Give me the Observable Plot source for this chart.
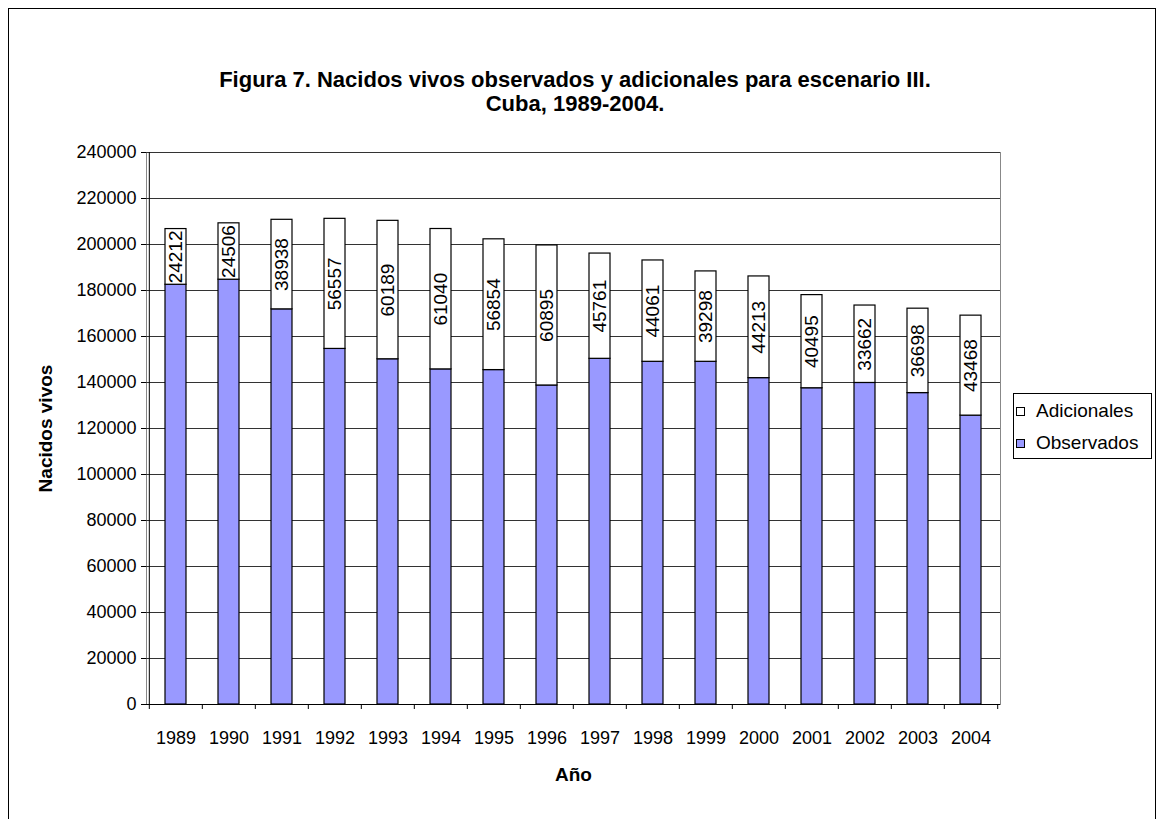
<!DOCTYPE html>
<html><head><meta charset="utf-8">
<script src="https://cdn.jsdelivr.net/npm/d3@7"></script>
<script src="https://cdn.jsdelivr.net/npm/@observablehq/plot@0.6"></script>
<style>
html,body{margin:0;padding:0;background:#fff;overflow:hidden}
#wrap{position:relative;width:1164px;height:819px;font-family:"Liberation Sans",Arial,sans-serif;color:#000}
#border{position:absolute;left:8px;top:8px;width:1148px;height:830px;border:1px solid #000;box-sizing:border-box}
#title{position:absolute;left:8px;width:1134px;top:68px;text-align:center;font-weight:bold;font-size:22px;line-height:24px}
#chart{position:absolute;left:0;top:120px}
#legend{position:absolute;left:1013px;top:393px;width:139px;height:66px;border:1px solid #000;box-sizing:border-box;font-size:19px;background:#fff;padding-top:1px}
#legend .row{display:flex;align-items:center;height:32px}
#legend .sw{width:9px;height:9px;border:1px solid #000;margin-left:2px;margin-right:11px;box-sizing:border-box}
</style></head>
<body>
<div id="wrap">
  <div id="border"></div>
  <div id="title">Figura 7. Nacidos vivos observados y adicionales para escenario III.<br>Cuba, 1989-2004.</div>
  <div id="chart"></div>
  <div id="legend"></div>
</div>
<script>
const years = ["1989","1990","1991","1992","1993","1994","1995","1996","1997","1998","1999","2000","2001","2002","2003","2004"];
const observados = [182500,184700,171800,154600,150100,145700,145400,138700,150300,149000,149000,141900,137500,139800,135400,125600];
const adicionales = [24212,24506,38938,56557,60189,61040,56854,60895,45761,44061,39298,44213,40495,33662,36698,43468];
const yTicks = [0,20000,40000,60000,80000,100000,120000,140000,160000,180000,200000,220000,240000];
const seriesNames = ["Observados","Adicionales"];
const seriesColors = ["#9999FF","#FFFFFF"];
const yLabel = "Nacidos vivos";
const xLabel = "Año";

const rows = [];
years.forEach((y, i) => {
  rows.push({year: y, series: "Observados", value: observados[i]});
  rows.push({year: y, series: "Adicionales", value: adicionales[i]});
});
const labels = years.map((y, i) => ({year: y, obs: observados[i], add: adicionales[i]}));

const W = 1164, H = 699, mL = 146, mR = 164, mT = 32, mB = 115;
const step = (W - mL - mR) / years.length;
const plotH = H - mT - mB;

const chart = Plot.plot({
  width: W, height: H,
  marginLeft: mL, marginRight: mR, marginTop: mT, marginBottom: mB,
  style: {fontFamily: '"Liberation Sans", Arial, sans-serif', fontSize: "18px", color: "#000", background: "transparent"},
  x: {type: "band", domain: years, paddingInner: 0.6, paddingOuter: 0.3, axis: null},
  y: {domain: [0, 240000], axis: null},
  color: {domain: seriesNames, range: seriesColors},
  marks: [
    Plot.frame({stroke: "#888"}),
    Plot.ruleY(yTicks, {stroke: "#333", strokeWidth: 1}),
    Plot.barY(rows, Plot.stackY({x: "year", y: "value", fill: "series", stroke: "#000", strokeWidth: 1.2})),
    Plot.text(labels, {x: "year", y: d => d.obs + d.add / 2, text: d => String(d.add), rotate: -90, fontSize: 19, fill: "#000"}),
    Plot.ruleY([0], {stroke: "#000", strokeWidth: 1}),
    Plot.ruleX([years[0]], {dx: -step / 2, stroke: "#000", strokeWidth: 1}),
    Plot.ruleX(years, {dx: -step / 2, stroke: "#000", insetTop: plotH, insetBottom: -5}),
    Plot.ruleX([years[years.length - 1]], {dx: step / 2, stroke: "#000", insetTop: plotH, insetBottom: -5}),
    Plot.axisY({ticks: yTicks, tickSize: 5, tickPadding: 5, tickFormat: d => String(d), fontSize: 18, label: null}),
    Plot.axisX({tickSize: 0, tickPadding: 27, fontSize: 18, label: null}),
    Plot.text([xLabel], {frameAnchor: "bottom", dy: 76, text: d => d, fontWeight: "bold", fontSize: 19, textAnchor: "middle"}),
    Plot.text([yLabel], {frameAnchor: "left", dx: -101, rotate: -90, text: d => d, fontWeight: "bold", fontSize: 19, textAnchor: "middle"})
  ]
});
document.getElementById("chart").appendChild(chart);

const legend = document.getElementById("legend");
[...seriesNames].reverse().forEach(name => {
  const row = document.createElement("div");
  row.className = "row";
  const sw = document.createElement("div");
  sw.className = "sw";
  sw.style.background = seriesColors[seriesNames.indexOf(name)];
  const t = document.createElement("span");
  t.textContent = name;
  row.appendChild(sw); row.appendChild(t);
  legend.appendChild(row);
});
</script>
</body></html>
